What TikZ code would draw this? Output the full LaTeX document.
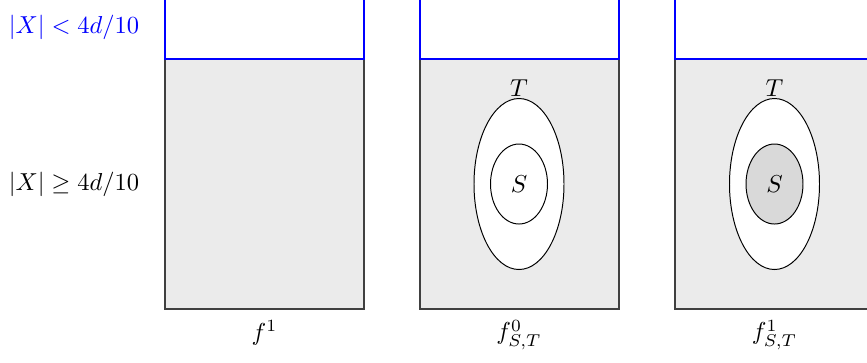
\documentclass[tikz,border=0pt]{standalone}
\begin{document}
\begin{tikzpicture}[x=0.408pt,y=-0.408pt,
  region/.style={fill=black!8, draw=black!75, line width=0.9pt},
  smallregion/.style={draw=blue, line width=1.1pt},
  setT/.style={draw=black, fill=white, line width=0.4pt},
  setS/.style={draw=black, line width=0.4pt},
  lbl/.style={inner sep=0pt}]
\useasboundingbox (0,0) rectangle (867,362);
\clip (0,0) rectangle (867,362);
% panels
\foreach \px in {165,420,675}{
  \draw[region] (\px,59) rectangle ++(199,250);
  \draw[smallregion] (\px,-20) rectangle ++(199,79);
}
% left labels
\node[lbl, text=blue] (small) at (74,27) {$|X| < 4d/10$};
\node[lbl] (large) at (74,184) {$|X| \geq 4d/10$};
% panel 2
\draw[setT] (519,184) ellipse [x radius=45, y radius=85.5];
\draw[setS, fill=white] (519,184) ellipse [x radius=28.5, y radius=40];
\node[lbl] (T0) at (519,88) {$T$};
\node[lbl] (S0) at (519,184) {$S$};
% panel 3
\draw[setT] (774.5,184) ellipse [x radius=45, y radius=85.5];
\draw[setS, fill=black!15] (774.5,184) ellipse [x radius=28.5, y radius=40];
\node[lbl] (T1) at (774.5,88) {$T$};
\node[lbl] (S1) at (774.5,184) {$S$};
% bottom labels
\node[lbl] (f1) at (264.5,333) {$f^1$};
\node[lbl] (f0ST) at (519,335) {$f^0_{S,T}$};
\node[lbl] (f1ST) at (774.5,335) {$f^1_{S,T}$};
\end{tikzpicture}
\end{document}
